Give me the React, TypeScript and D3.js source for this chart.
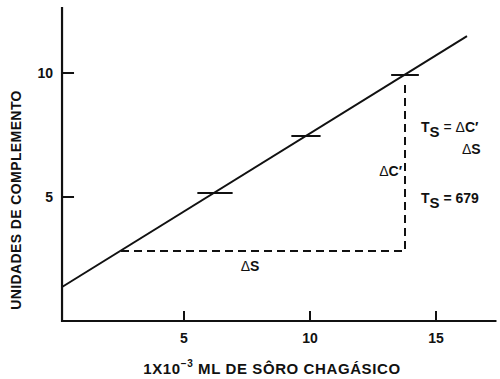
import { useEffect, useRef } from 'react';
import * as d3 from 'd3';

// dose (1x10^-3 ml serum) vs complement units
const doseValues = [6.23, 9.84, 13.77];
const complementValues = [5.16, 7.46, 9.92];
const barHalfWidths = [0.7, 0.58, 0.55];

// fitted line endpoints
const fitX = [0.16, 16.23];
const fitY = [1.37, 11.49];

// delta construction
const deltaSStart = 2.5;
const deltaLevel = 2.82;

const xTicks = [5, 10, 15];
const yTicks = [5, 10];

export default function App() {
    const svgRef = useRef<SVGSVGElement>(null);

    useEffect(() => {
        if (!svgRef.current) return;
        document.body.style.margin = '0';

        const svg = d3.select(svgRef.current);
        svg.selectAll('*').remove();

        const font = '"Liberation Sans", Arial, Helvetica, sans-serif';

        const x = d3.scaleLinear().domain([0, 15]).range([58, 436]);
        const y = d3.scaleLinear().domain([0, 10]).range([321, 73]);

        const g = svg.append('g')
            .attr('font-family', font)
            .attr('font-weight', 'bold')
            .attr('fill', '#111');

        // Axes
        const axisX = x(0.16);
        g.append('line')
            .attr('x1', axisX).attr('x2', axisX)
            .attr('y1', y(12.66)).attr('y2', y(0) + 1)
            .attr('stroke', '#111').attr('stroke-width', 2.2);
        g.append('line')
            .attr('x1', axisX - 1).attr('x2', x(17.4))
            .attr('y1', y(0)).attr('y2', y(0))
            .attr('stroke', '#111').attr('stroke-width', 2.2);

        // x ticks (inward, upward)
        xTicks.forEach(t => {
            g.append('line')
                .attr('x1', x(t)).attr('x2', x(t))
                .attr('y1', y(0)).attr('y2', y(0) - 10)
                .attr('stroke', '#111').attr('stroke-width', 2);
            g.append('text')
                .attr('x', x(t)).attr('y', y(0) + 22)
                .attr('text-anchor', 'middle')
                .attr('font-size', 14)
                .text(String(t));
        });

        // y ticks (inward, rightward)
        yTicks.forEach(t => {
            g.append('line')
                .attr('x1', axisX).attr('x2', axisX + 12)
                .attr('y1', y(t)).attr('y2', y(t))
                .attr('stroke', '#111').attr('stroke-width', 2);
            g.append('text')
                .attr('x', axisX - 9).attr('y', y(t) + 5)
                .attr('text-anchor', 'end')
                .attr('font-size', 14)
                .text(String(t));
        });

        // Axis titles
        const xt = g.append('text')
            .attr('x', 272).attr('y', 374)
            .attr('text-anchor', 'middle')
            .attr('font-size', 15)
            .attr('letter-spacing', 0.6);
        xt.append('tspan').text('1X10');
        xt.append('tspan').attr('dy', -7).attr('font-size', 10).text('\u22123');
        xt.append('tspan').attr('dy', 7).text(' ML DE SÔRO CHAGÁSICO');

        g.append('text')
            .attr('transform', `translate(21, 200) rotate(-90)`)
            .attr('text-anchor', 'middle')
            .attr('font-size', 14)
            .attr('letter-spacing', 0.4)
            .text('UNIDADES DE COMPLEMENTO');

        // Fitted line
        const line = d3.line<[number, number]>().x(d => x(d[0])).y(d => y(d[1]));
        g.append('path')
            .datum(fitX.map((v, i) => [v, fitY[i]] as [number, number]))
            .attr('d', line)
            .attr('fill', 'none')
            .attr('stroke', '#111')
            .attr('stroke-width', 2);

        // Data bars
        doseValues.forEach((d, i) => {
            g.append('line')
                .attr('x1', x(d - barHalfWidths[i])).attr('x2', x(d + barHalfWidths[i]))
                .attr('y1', y(complementValues[i])).attr('y2', y(complementValues[i]))
                .attr('stroke', '#111').attr('stroke-width', 2);
        });

        // Dashed delta lines
        const last = doseValues.length - 1;
        g.append('path')
            .datum([
                [deltaSStart, deltaLevel],
                [doseValues[last], deltaLevel],
                [doseValues[last], complementValues[last] - 0.3],
            ] as [number, number][])
            .attr('d', line)
            .attr('fill', 'none')
            .attr('stroke', '#111')
            .attr('stroke-width', 2)
            .attr('stroke-dasharray', '8,5');

        // Delta labels
        const ds = g.append('text')
            .attr('x', 250).attr('y', 271)
            .attr('text-anchor', 'middle')
            .attr('font-size', 14);
        ds.append('tspan').attr('font-weight', 'normal').text('Δ');
        ds.append('tspan').text('S');
        const dc = g.append('text')
            .attr('x', 402).attr('y', 176)
            .attr('text-anchor', 'end')
            .attr('font-size', 14);
        dc.append('tspan').attr('font-weight', 'normal').text('Δ');
        dc.append('tspan').text('C′');

        // Formula
        const f1 = g.append('text').attr('x', 421).attr('y', 132).attr('font-size', 14);
        f1.append('tspan').text('T');
        f1.append('tspan').attr('dy', 5).attr('font-size', 15).text('S');
        f1.append('tspan').attr('dy', -5).attr('font-weight', 'normal').text(' = Δ');
        f1.append('tspan').text('C′');
        const f1b = g.append('text')
            .attr('x', 462).attr('y', 154)
            .attr('font-size', 14);
        f1b.append('tspan').attr('font-weight', 'normal').text('Δ');
        f1b.append('tspan').text('S');

        const f2 = g.append('text').attr('x', 421).attr('y', 203).attr('font-size', 14);
        f2.append('tspan').text('T');
        f2.append('tspan').attr('dy', 5).attr('font-size', 15).text('S');
        f2.append('tspan').attr('dy', -5).text(' = 679');
    }, []);

    return (
        <svg
            ref={svgRef}
            width={500}
            height={379}
            style={{ position: 'absolute', left: 0, top: 0, background: '#fff' }}
        />
    );
}
